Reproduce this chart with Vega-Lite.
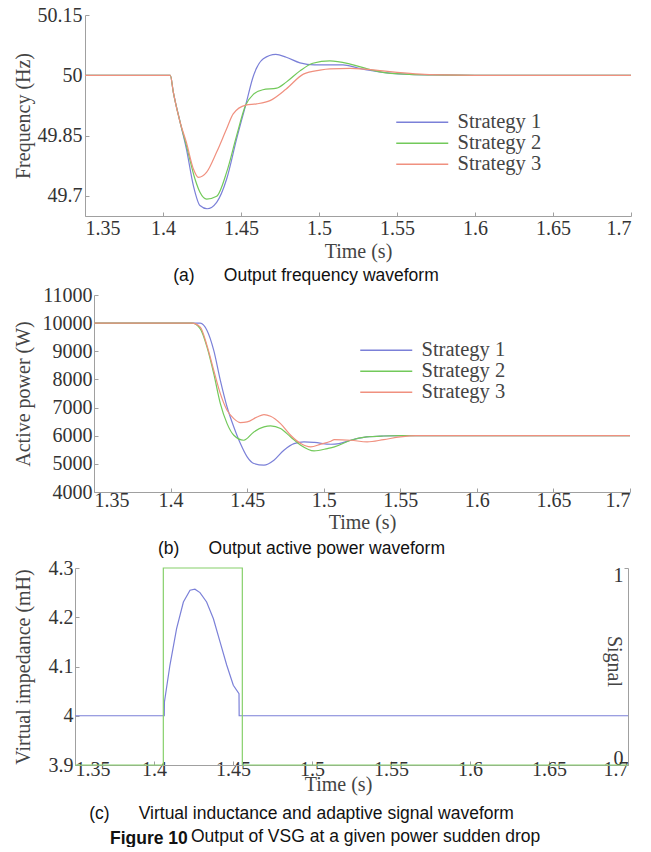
{
  "$schema": "https://vega.github.io/schema/vega-lite/v6.json",
  "background": "white",
  "padding": {"top": 5, "left": 13, "right": 0, "bottom": 0},
  "columns": 1,
  "spacing": 0,
  "resolve": {"scale": {"color": "independent"}, "legend": {"color": "independent"}},
  "config": {
    "font": "Liberation Serif",
    "view": {"stroke": null},
    "axis": {"domainColor": "#a0a0a0", "tickColor": "#a0a0a0", "labelColor": "#333333", "titleColor": "#444444", "labelFont": "Liberation Serif", "titleFont": "Liberation Serif", "labelFontSize": 20, "titleFontSize": 20, "titleFontWeight": "normal", "grid": false, "tickSize": -4, "labelBound": false, "labelOverlap": false},
    "title": {"font": "Liberation Sans", "fontSize": 17.5, "fontWeight": "normal", "color": "#111111", "orient": "bottom", "frame": "group", "anchor": "middle"},
    "legend": {"orient": "none", "title": null, "symbolType": "M-5.2,0H5.2", "symbolSize": 100, "symbolStrokeWidth": 1.5, "labelFont": "Liberation Serif", "labelFontSize": 20.5, "labelColor": "#444444", "labelOffset": 25, "rowPadding": -3, "padding": 0, "labelLimit": 300}
  },
  "datasets": {
    "fa": [
      {"s": "Strategy 1", "t": 1.35, "v": 50}, {"s": "Strategy 1", "t": 1.4047, "v": 50}, {"s": "Strategy 1", "t": 1.4066, "v": 49.958}, {"s": "Strategy 1", "t": 1.411, "v": 49.883}, {"s": "Strategy 1", "t": 1.415, "v": 49.817}, {"s": "Strategy 1", "t": 1.4195, "v": 49.725}, {"s": "Strategy 1", "t": 1.4237, "v": 49.676}, {"s": "Strategy 1", "t": 1.4283, "v": 49.668}, {"s": "Strategy 1", "t": 1.4344, "v": 49.684}, {"s": "Strategy 1", "t": 1.4408, "v": 49.742}, {"s": "Strategy 1", "t": 1.4472, "v": 49.842}, {"s": "Strategy 1", "t": 1.453, "v": 49.926}, {"s": "Strategy 1", "t": 1.458, "v": 49.999}, {"s": "Strategy 1", "t": 1.4643, "v": 50.041}, {"s": "Strategy 1", "t": 1.4723, "v": 50.052}, {"s": "Strategy 1", "t": 1.479, "v": 50.045}, {"s": "Strategy 1", "t": 1.4878, "v": 50.031}, {"s": "Strategy 1", "t": 1.497, "v": 50.026}, {"s": "Strategy 1", "t": 1.5154, "v": 50.026}, {"s": "Strategy 1", "t": 1.525, "v": 50.018}, {"s": "Strategy 1", "t": 1.541, "v": 50.0075}, {"s": "Strategy 1", "t": 1.555, "v": 50.003}, {"s": "Strategy 1", "t": 1.573, "v": 50.001}, {"s": "Strategy 1", "t": 1.6, "v": 50}, {"s": "Strategy 1", "t": 1.7, "v": 50},
      {"s": "Strategy 2", "t": 1.35, "v": 50}, {"s": "Strategy 2", "t": 1.4047, "v": 50}, {"s": "Strategy 2", "t": 1.4066, "v": 49.958}, {"s": "Strategy 2", "t": 1.411, "v": 49.883}, {"s": "Strategy 2", "t": 1.415, "v": 49.825}, {"s": "Strategy 2", "t": 1.4205, "v": 49.742}, {"s": "Strategy 2", "t": 1.4237, "v": 49.709}, {"s": "Strategy 2", "t": 1.428, "v": 49.692}, {"s": "Strategy 2", "t": 1.4344, "v": 49.699}, {"s": "Strategy 2", "t": 1.4408, "v": 49.759}, {"s": "Strategy 2", "t": 1.4472, "v": 49.85}, {"s": "Strategy 2", "t": 1.453, "v": 49.926}, {"s": "Strategy 2", "t": 1.458, "v": 49.953}, {"s": "Strategy 2", "t": 1.464, "v": 49.964}, {"s": "Strategy 2", "t": 1.4729, "v": 49.968}, {"s": "Strategy 2", "t": 1.479, "v": 49.983}, {"s": "Strategy 2", "t": 1.4878, "v": 50.011}, {"s": "Strategy 2", "t": 1.496, "v": 50.03}, {"s": "Strategy 2", "t": 1.507, "v": 50.036}, {"s": "Strategy 2", "t": 1.52, "v": 50.028}, {"s": "Strategy 2", "t": 1.531, "v": 50.016}, {"s": "Strategy 2", "t": 1.541, "v": 50.0075}, {"s": "Strategy 2", "t": 1.555, "v": 50.003}, {"s": "Strategy 2", "t": 1.573, "v": 50.001}, {"s": "Strategy 2", "t": 1.6, "v": 50}, {"s": "Strategy 2", "t": 1.7, "v": 50},
      {"s": "Strategy 3", "t": 1.35, "v": 50}, {"s": "Strategy 3", "t": 1.4047, "v": 50}, {"s": "Strategy 3", "t": 1.4066, "v": 49.958}, {"s": "Strategy 3", "t": 1.411, "v": 49.883}, {"s": "Strategy 3", "t": 1.415, "v": 49.833}, {"s": "Strategy 3", "t": 1.4195, "v": 49.767}, {"s": "Strategy 3", "t": 1.4227, "v": 49.746}, {"s": "Strategy 3", "t": 1.428, "v": 49.759}, {"s": "Strategy 3", "t": 1.4344, "v": 49.809}, {"s": "Strategy 3", "t": 1.4408, "v": 49.867}, {"s": "Strategy 3", "t": 1.445, "v": 49.904}, {"s": "Strategy 3", "t": 1.453, "v": 49.926}, {"s": "Strategy 3", "t": 1.46, "v": 49.929}, {"s": "Strategy 3", "t": 1.4686, "v": 49.937}, {"s": "Strategy 3", "t": 1.479, "v": 49.966}, {"s": "Strategy 3", "t": 1.49, "v": 50.003}, {"s": "Strategy 3", "t": 1.5006, "v": 50.013}, {"s": "Strategy 3", "t": 1.507, "v": 50.016}, {"s": "Strategy 3", "t": 1.52, "v": 50.017}, {"s": "Strategy 3", "t": 1.541, "v": 50.011}, {"s": "Strategy 3", "t": 1.55, "v": 50.0075}, {"s": "Strategy 3", "t": 1.565, "v": 50.003}, {"s": "Strategy 3", "t": 1.58, "v": 50.001}, {"s": "Strategy 3", "t": 1.6, "v": 50}, {"s": "Strategy 3", "t": 1.7, "v": 50}
    ],
    "pb": [
      {"s": "Strategy 1", "t": 1.35, "v": 10000}, {"s": "Strategy 1", "t": 1.4194, "v": 10000}, {"s": "Strategy 1", "t": 1.4238, "v": 9740}, {"s": "Strategy 1", "t": 1.4282, "v": 9031}, {"s": "Strategy 1", "t": 1.4325, "v": 7967}, {"s": "Strategy 1", "t": 1.4369, "v": 7021}, {"s": "Strategy 1", "t": 1.4413, "v": 6312}, {"s": "Strategy 1", "t": 1.4456, "v": 5721}, {"s": "Strategy 1", "t": 1.45, "v": 5248}, {"s": "Strategy 1", "t": 1.4544, "v": 5012}, {"s": "Strategy 1", "t": 1.461, "v": 4953}, {"s": "Strategy 1", "t": 1.4675, "v": 5130}, {"s": "Strategy 1", "t": 1.474, "v": 5485}, {"s": "Strategy 1", "t": 1.4806, "v": 5721}, {"s": "Strategy 1", "t": 1.4871, "v": 5780}, {"s": "Strategy 1", "t": 1.494, "v": 5760}, {"s": "Strategy 1", "t": 1.5046, "v": 5697}, {"s": "Strategy 1", "t": 1.51, "v": 5720}, {"s": "Strategy 1", "t": 1.5177, "v": 5839}, {"s": "Strategy 1", "t": 1.528, "v": 5957}, {"s": "Strategy 1", "t": 1.539, "v": 5990}, {"s": "Strategy 1", "t": 1.55, "v": 6000}, {"s": "Strategy 1", "t": 1.7, "v": 6000},
      {"s": "Strategy 2", "t": 1.35, "v": 10000}, {"s": "Strategy 2", "t": 1.414, "v": 10000}, {"s": "Strategy 2", "t": 1.4194, "v": 9800}, {"s": "Strategy 2", "t": 1.4238, "v": 9149}, {"s": "Strategy 2", "t": 1.4282, "v": 8203}, {"s": "Strategy 2", "t": 1.4325, "v": 7140}, {"s": "Strategy 2", "t": 1.4369, "v": 6430}, {"s": "Strategy 2", "t": 1.4413, "v": 6017}, {"s": "Strategy 2", "t": 1.4478, "v": 5839}, {"s": "Strategy 2", "t": 1.4544, "v": 6135}, {"s": "Strategy 2", "t": 1.461, "v": 6312}, {"s": "Strategy 2", "t": 1.4653, "v": 6348}, {"s": "Strategy 2", "t": 1.4718, "v": 6253}, {"s": "Strategy 2", "t": 1.4784, "v": 5957}, {"s": "Strategy 2", "t": 1.485, "v": 5662}, {"s": "Strategy 2", "t": 1.4937, "v": 5461}, {"s": "Strategy 2", "t": 1.5024, "v": 5544}, {"s": "Strategy 2", "t": 1.507, "v": 5603}, {"s": "Strategy 2", "t": 1.5177, "v": 5839}, {"s": "Strategy 2", "t": 1.528, "v": 5957}, {"s": "Strategy 2", "t": 1.539, "v": 5990}, {"s": "Strategy 2", "t": 1.55, "v": 6000}, {"s": "Strategy 2", "t": 1.7, "v": 6000},
      {"s": "Strategy 3", "t": 1.35, "v": 10000}, {"s": "Strategy 3", "t": 1.414, "v": 10000}, {"s": "Strategy 3", "t": 1.4194, "v": 9858}, {"s": "Strategy 3", "t": 1.4238, "v": 9200}, {"s": "Strategy 3", "t": 1.4282, "v": 8322}, {"s": "Strategy 3", "t": 1.4325, "v": 7494}, {"s": "Strategy 3", "t": 1.4369, "v": 6903}, {"s": "Strategy 3", "t": 1.4413, "v": 6608}, {"s": "Strategy 3", "t": 1.4456, "v": 6466}, {"s": "Strategy 3", "t": 1.45, "v": 6489}, {"s": "Strategy 3", "t": 1.4565, "v": 6667}, {"s": "Strategy 3", "t": 1.461, "v": 6749}, {"s": "Strategy 3", "t": 1.4653, "v": 6690}, {"s": "Strategy 3", "t": 1.4718, "v": 6430}, {"s": "Strategy 3", "t": 1.4784, "v": 6017}, {"s": "Strategy 3", "t": 1.485, "v": 5721}, {"s": "Strategy 3", "t": 1.4915, "v": 5603}, {"s": "Strategy 3", "t": 1.498, "v": 5700}, {"s": "Strategy 3", "t": 1.5046, "v": 5804}, {"s": "Strategy 3", "t": 1.5069, "v": 5863}, {"s": "Strategy 3", "t": 1.5177, "v": 5839}, {"s": "Strategy 3", "t": 1.5284, "v": 5780}, {"s": "Strategy 3", "t": 1.5392, "v": 5863}, {"s": "Strategy 3", "t": 1.55, "v": 5957}, {"s": "Strategy 3", "t": 1.56, "v": 6000}, {"s": "Strategy 3", "t": 1.7, "v": 6000}
    ],
    "lc": [
      {"t": 1.35, "v": 4}, {"t": 1.4065, "v": 4}, {"t": 1.4066, "v": 4.028}, {"t": 1.4101, "v": 4.103}, {"t": 1.4143, "v": 4.177}, {"t": 1.4186, "v": 4.231}, {"t": 1.4228, "v": 4.255}, {"t": 1.4259, "v": 4.257}, {"t": 1.4291, "v": 4.25}, {"t": 1.4333, "v": 4.231}, {"t": 1.4376, "v": 4.197}, {"t": 1.4418, "v": 4.15}, {"t": 1.446, "v": 4.103}, {"t": 1.4502, "v": 4.062}, {"t": 1.4538, "v": 4.045}, {"t": 1.4539, "v": 4}, {"t": 1.7, "v": 4}
    ],
    "sg": [
      {"i": 1, "t": 1.35, "g": 0}, {"i": 2, "t": 1.4059, "g": 0}, {"i": 3, "t": 1.4059, "g": 1}, {"i": 4, "t": 1.4559, "g": 1}, {"i": 5, "t": 1.4559, "g": 0}, {"i": 6, "t": 1.7, "g": 0}
    ]
  },
  "concat": [
    {
      "width": 556, "height": 201,
      "title": {"text": "(a)\u00a0\u00a0\u00a0\u00a0\u00a0\u00a0Output frequency waveform", "dx": -47, "offset": 6},
      "data": {"name": "fa"},
      "mark": {"type": "line", "strokeWidth": 1.2, "interpolate": "monotone"},
      "encoding": {
        "x": {"field": "t", "type": "quantitative", "scale": {"domain": [1.35, 1.7], "range": [10, 556], "nice": false, "zero": false}, "axis": {"title": "Time (s)", "values": [1.35, 1.4, 1.45, 1.5, 1.55, 1.6, 1.65, 1.7], "format": ".2~f", "labelPadding": 6, "titlePadding": 3}},
        "y": {"field": "v", "type": "quantitative", "scale": {"domain": [49.65, 50.15], "nice": false, "zero": false}, "axis": {"title": "Frequency (Hz)", "offset": -10, "values": [49.7, 49.85, 50, 50.15], "format": ".2~f", "labelPadding": 7, "minExtent": 50, "maxExtent": 50, "titlePadding": 2}},
        "color": {"field": "s", "type": "nominal", "scale": {"domain": ["Strategy 1", "Strategy 2", "Strategy 3"], "range": ["#7b80d8", "#72c95a", "#f0907f"]}, "legend": {"legendX": 337, "legendY": 97}}
      }
    },
    {
      "width": 555, "height": 197,
      "title": {"text": "(b)\u00a0\u00a0\u00a0\u00a0\u00a0\u00a0Output active power waveform", "dx": -51, "offset": 8},
      "data": {"name": "pb"},
      "mark": {"type": "line", "strokeWidth": 1.2, "interpolate": "monotone"},
      "encoding": {
        "x": {"field": "t", "type": "quantitative", "scale": {"domain": [1.35, 1.7], "range": [19, 555], "nice": false, "zero": false}, "axis": {"title": "Time (s)", "values": [1.35, 1.4, 1.45, 1.5, 1.55, 1.6, 1.65, 1.7], "format": ".2~f", "labelPadding": 2, "titlePadding": 2}},
        "y": {"field": "v", "type": "quantitative", "scale": {"domain": [4000, 11000], "nice": false, "zero": false}, "axis": {"title": "Active power (W)", "offset": -19, "values": [4000, 5000, 6000, 7000, 8000, 9000, 10000, 11000], "format": "d", "labelPadding": 6, "minExtent": 59, "maxExtent": 59, "titlePadding": 2}},
        "color": {"field": "s", "type": "nominal", "scale": {"domain": ["Strategy 1", "Strategy 2", "Strategy 3"], "range": ["#7b80d8", "#72c95a", "#f0907f"]}, "legend": {"legendX": 301, "legendY": 45}}
      }
    },
    {
      "columns": 1,
      "title": {"text": "Figure 10", "fontWeight": "bold", "anchor": "start", "frame": "bounds", "dx": 97, "offset": 7},
      "concat": [
        {
          "width": 553, "height": 197,
          "title": {"text": "(c)\u00a0\u00a0\u00a0\u00a0\u00a0\u00a0Virtual inductance and adaptive signal waveform", "dx": -50, "offset": 11},
          "encoding": {
            "x": {"field": "t", "type": "quantitative", "scale": {"domain": [1.35, 1.7], "nice": false, "zero": false}, "axis": {"title": "Time (s)", "titleX": 263, "titleAlign": "center", "values": [1.35, 1.4, 1.45, 1.5, 1.55, 1.6, 1.65, 1.7], "format": ".2~f", "labelPadding": -2, "titlePadding": -5}}
          },
          "layer": [
            {
              "data": {"name": "lc"},
              "mark": {"type": "line", "strokeWidth": 1.2, "color": "#7b80d8"},
              "encoding": {
                "y": {"field": "v", "type": "quantitative", "scale": {"domain": [3.9, 4.3], "nice": false, "zero": false}, "axis": {"title": "Virtual impedance (mH)", "values": [3.9, 4, 4.1, 4.2, 4.3], "format": ".1~f", "labelPadding": 6, "minExtent": 40, "maxExtent": 40, "titlePadding": 2}}
              }
            },
            {
              "data": {"name": "sg"},
              "mark": {"type": "line", "strokeWidth": 1.2, "color": "#86d06a"},
              "encoding": {
                "y": {"field": "g", "type": "quantitative", "scale": {"domain": [0, 1], "nice": false, "zero": false}, "axis": {"orient": "right", "title": "Signal", "values": [0, 1], "format": "d", "labelAlign": "right", "labelPadding": -1, "labelFlush": true, "labelFlushOffset": 3, "titleAngle": 90, "titleX": -15, "titleY": 93, "titleBaseline": "middle", "titleAlign": "center"}},
                "order": {"field": "i", "type": "quantitative"}
              }
            }
          ],
          "resolve": {"scale": {"y": "independent"}}
        }
      ]
    }
  ],
  "title": {"text": "Output of VSG at a given power sudden drop", "anchor": "start", "frame": "bounds", "dx": 178, "offset": -19}
}
